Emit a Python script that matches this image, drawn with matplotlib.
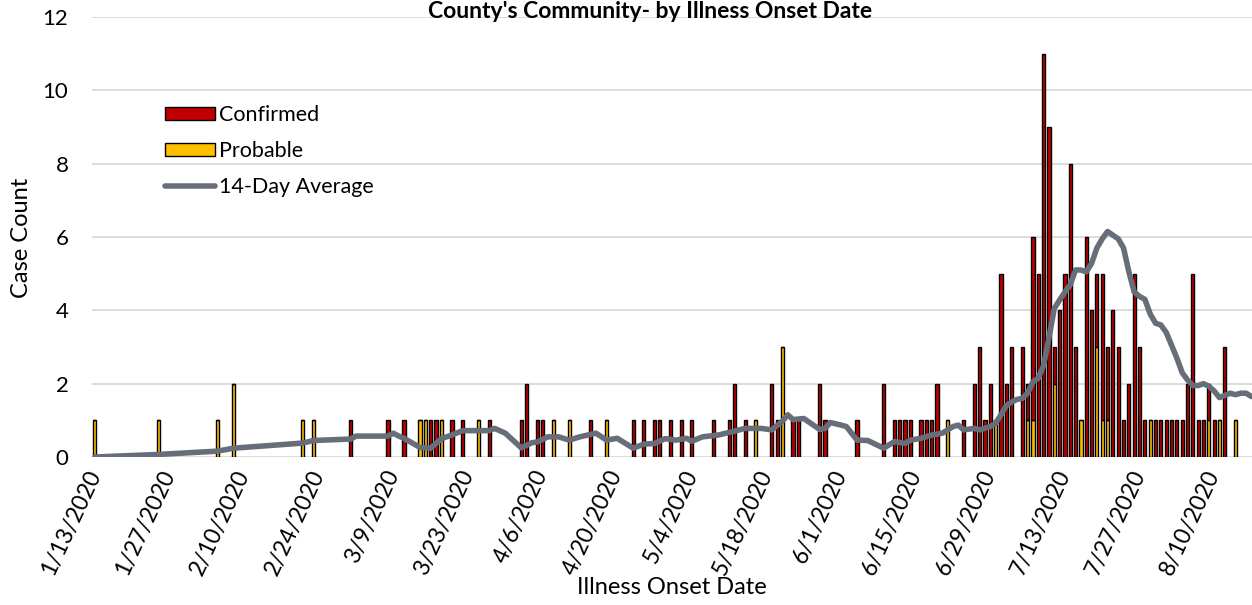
import numpy as np
import matplotlib.pyplot as plt
import pandas as pd

#%% Data (days counted from 1/13/2020)
start = pd.Timestamp('2020-01-13')

bar_days = [0, 12, 23, 26, 39, 41, 48, 55, 58, 61, 62, 63, 64, 65, 67, 69, 72, 74,
            80, 81, 83, 84, 86, 89, 93, 96, 101, 103, 105, 106, 108, 110, 112, 116,
            119, 120, 122, 124, 127, 128, 129, 131, 132, 136, 137, 143, 148, 150, 151,
            152, 153, 155, 156, 157, 158, 160, 163, 165, 166, 167, 168, 169, 170, 171,
            172, 174, 175, 176, 177, 178, 179, 180, 181, 182, 183, 184, 185, 186, 187,
            188, 189, 190, 191, 192, 193, 194, 195, 196, 197, 198, 199, 200, 201, 202,
            203, 204, 205, 206, 207, 208, 209, 210, 211, 212, 214]
confirmed = [0, 0, 0, 0, 0, 0, 1, 1, 1, 0, 0, 1, 1, 0, 1, 1, 0, 1,
             1, 2, 1, 1, 0, 0, 1, 0, 1, 1, 1, 1, 1, 1, 1, 1,
             1, 2, 1, 0, 2, 1, 0, 1, 1, 2, 1, 1, 2, 1, 1,
             1, 1, 1, 1, 1, 2, 0, 1, 2, 3, 1, 2, 0, 5, 2,
             3, 3, 1, 5, 5, 11, 9, 1, 4, 5, 8, 3, 0, 6, 4,
             2, 4, 2, 4, 3, 1, 2, 5, 3, 1, 0, 1, 1, 1, 1,
             1, 1, 2, 5, 1, 1, 1, 1, 0, 3, 0]
probable = [1, 1, 1, 2, 1, 1, 0, 0, 0, 1, 1, 0, 0, 1, 0, 0, 1, 0,
            0, 0, 0, 0, 1, 1, 0, 1, 0, 0, 0, 0, 0, 0, 0, 0,
            0, 0, 0, 1, 0, 0, 3, 0, 0, 0, 0, 0, 0, 0, 0,
            0, 0, 0, 0, 0, 0, 1, 0, 0, 0, 0, 0, 1, 0, 0,
            0, 0, 1, 1, 0, 0, 0, 2, 0, 0, 0, 0, 1, 0, 0,
            3, 1, 1, 0, 0, 0, 0, 0, 0, 0, 1, 0, 0, 0, 0,
            0, 0, 0, 0, 0, 0, 1, 0, 1, 0, 1]

avg_days = [0, 12, 23, 26, 39, 41, 48, 49, 55, 56, 57, 58, 61, 63, 65, 67, 69, 74,
            75, 77, 80, 82, 83, 85, 87, 89, 91, 94, 96, 98, 101, 103, 105, 107, 109,
            111, 112, 114, 117, 119, 122, 125, 127, 129, 130, 131, 133, 136, 137, 138,
            140, 141, 143, 145, 148, 150, 152, 153, 155, 157, 159, 161, 162, 163, 165,
            166, 168, 169, 170, 171, 172, 173, 174, 175, 176, 177, 178, 179, 180, 181,
            182, 183, 184, 185, 186, 187, 188, 189, 190, 191, 192, 193, 194, 195, 196,
            197, 198, 199, 200, 201, 202, 203, 204, 205, 206, 207, 208, 209, 210, 211,
            212, 213, 214, 215, 216, 217]
avg_values = [0, 0.07, 0.16, 0.24, 0.38, 0.45, 0.49, 0.57, 0.57, 0.65, 0.57, 0.51, 0.26,
              0.24, 0.5, 0.6, 0.72, 0.72, 0.78, 0.65, 0.25, 0.39, 0.41, 0.55, 0.55, 0.46,
              0.55, 0.65, 0.46, 0.51, 0.24, 0.35, 0.37, 0.5, 0.46, 0.51, 0.43, 0.55, 0.6,
              0.67, 0.78, 0.78, 0.74, 0.98, 1.15, 1.02, 1.05, 0.75, 0.78, 0.94, 0.87,
              0.83, 0.46, 0.45, 0.24, 0.42, 0.37, 0.46, 0.51, 0.6, 0.65, 0.83, 0.87,
              0.74, 0.78, 0.74, 0.83, 0.92, 1.15, 1.4, 1.5, 1.57, 1.6, 1.74, 2.05, 2.15,
              2.5, 3.25, 4.05, 4.28, 4.5, 4.7, 5.1, 5.1, 5.05, 5.28, 5.7, 5.95, 6.15,
              6.05, 5.95, 5.7, 5.05, 4.5, 4.38, 4.3, 3.9, 3.65, 3.6, 3.4, 3.05, 2.7, 2.3,
              2.1, 1.95, 1.95, 2.0, 1.93, 1.8, 1.62, 1.68, 1.74, 1.7, 1.74, 1.74, 1.65]

tick_labels = ['1/13/2020', '1/27/2020', '2/10/2020', '2/24/2020', '3/9/2020',
               '3/23/2020', '4/6/2020', '4/20/2020', '5/4/2020', '5/18/2020',
               '6/1/2020', '6/15/2020', '6/29/2020', '7/13/2020', '7/27/2020',
               '8/10/2020']

bar_dates = start + pd.to_timedelta(bar_days, unit='D')
avg_dates = start + pd.to_timedelta(avg_days, unit='D')
tick_dates = pd.to_datetime(tick_labels, format='%m/%d/%Y')

#%% Plot
plt.rcParams['font.family'] = ['Lato', 'DejaVu Sans']

fig = plt.figure(figsize=(12.52, 6.05), dpi=100)
ax = fig.add_axes([92/1252, 1 - 457/605, 1160/1252, 440/605])

red = '#C00000'
gold = '#FFC000'
line_gray = '#676E7A'

ax.bar(bar_dates, probable, width=0.6, color=gold, edgecolor='black', linewidth=1.0,
       label='Probable', zorder=2)
ax.bar(bar_dates, confirmed, width=0.6, bottom=probable, color=red, edgecolor='black',
       linewidth=1.0, label='Confirmed', zorder=2)
ax.plot(avg_dates, avg_values, color=line_gray, lw=4.0, solid_capstyle='round',
        label='14-Day Average', zorder=3)

ax.set_ylim(0, 12)
ax.set_yticks(range(0, 13, 2))
ax.set_xlim(start - pd.Timedelta(hours=13), start + pd.Timedelta(days=217.1))
ax.set_xticks(tick_dates)
ax.set_xticklabels(tick_labels, rotation=65, ha='right', va='center',
                   rotation_mode='anchor', fontsize=16.5)
ax.tick_params(axis='y', labelsize=16)
ax.tick_params(axis='both', length=0)
ax.tick_params(axis='x', pad=10)
ax.tick_params(axis='y', pad=17)
ax.grid(axis='y', color='#D9D9D9', lw=1.3, zorder=0)
ax.set_axisbelow(True)
for s in ax.spines.values():
    s.set_visible(False)

fig.text(22/1252, 1 - 238/605, 'Case Count', rotation=90, ha='center', va='center',
         fontsize=17)
fig.text(672/1252, 1 - 588/605, 'Illness Onset Date', ha='center', va='center',
         fontsize=17)
fig.text(650/1252, 0.999, "County's Community- by Illness Onset Date",
         ha='center', va='top', fontsize=16.5, fontweight='bold')

h, l = ax.get_legend_handles_labels()
lookup = dict(zip(l, h))
names = ['Confirmed', 'Probable', '14-Day Average']
ax.legend([lookup[n] for n in names], names, loc='upper left',
          bbox_to_anchor=(73/1160, 1 - 88/440), frameon=False, fontsize=15.5,
          handlelength=2.3, handleheight=0.6, handletextpad=0.2, labelspacing=0.75,
          borderpad=0, borderaxespad=0)

fig.savefig('out.png', dpi=100)
